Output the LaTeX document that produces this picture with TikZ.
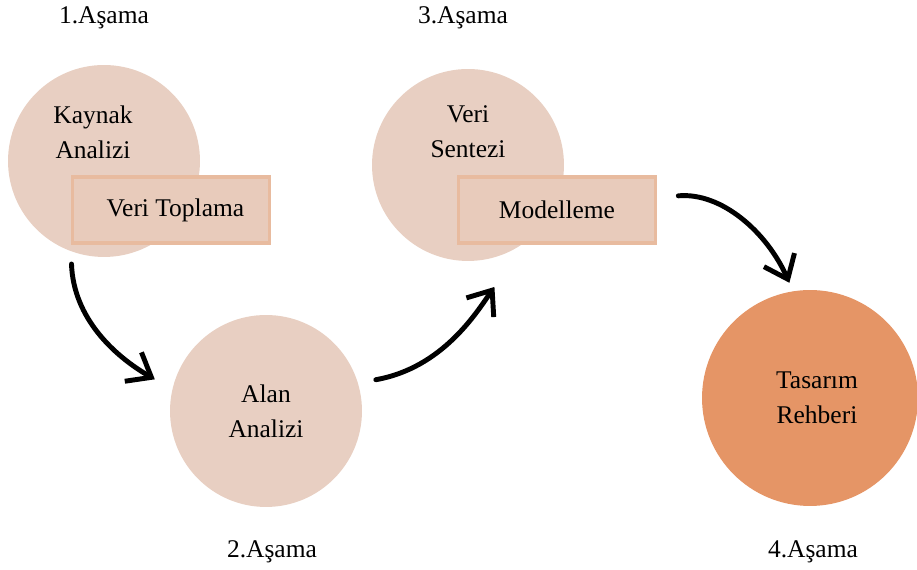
\documentclass[tikz,border=0pt]{standalone}
\usepackage{fontspec}
\setmainfont{Liberation Serif}
\usetikzlibrary{arrows.meta}

\definecolor{softpeach}{HTML}{E8CFC2}
\definecolor{boxfill}{HTML}{E8CBBB}
\definecolor{boxedge}{HTML}{E8BB9F}
\definecolor{deeporange}{HTML}{E59566}

\tikzset{
  txt/.style={font=\fontsize{14.5}{20}\selectfont, align=center, inner sep=0pt},
  stage/.style={circle, fill=softpeach, minimum size=3.84cm, inner sep=0pt},
  task/.style={rectangle, fill=boxfill, draw=boxedge, line width=2.2pt,
    minimum width=3.94cm, minimum height=1.32cm, inner sep=0pt},
  flow/.style={line width=2.8pt, line cap=round,
    -{Straight Barb[length=12pt,width=19pt,line width=2.8pt]}}
}

\begin{document}
\begin{tikzpicture}[x=0.02cm, y=0.02cm]
  \useasboundingbox (0,0) rectangle (917,570);
  % circles
  \node[stage] (kaynak) at (104,409) {};
  \node[stage] (sentez) at (468,405) {};
  \node[stage, txt] (alan) at (266,159) {Alan\\Analizi};
  \node[stage, fill=deeporange, minimum size=4.32cm] (rehber) at (810,172) {};
  \node[txt] (rehberlbl) at (817,172) {Tasarım\\Rehberi};
  % boxes
  \node[task, txt] (toplama) at (171,360) {\hspace{5pt}Veri Toplama};
  \node[task, txt] (modelleme) at (557,360) {Modelleme};
  \node[txt] (kaynaklbl) at (93,438) {Kaynak\\Analizi};
  \node[txt] (sentezlbl) at (468,438) {Veri\\Sentezi};
  % stage labels
  \node[txt] (asama1) at (104,552) {1.Aşama};
  \node[txt] (asama3) at (463,552) {3.Aşama};
  \node[txt] (asama2) at (272,18) {2.Aşama};
  \node[txt] (asama4) at (813,18) {4.Aşama};
  % arrows
  \draw[flow, shorten <=0.25cm, shorten >=0.4cm] (kaynak.250) to[out=-88, in=150] (alan.167);
  \draw[flow, shorten <=0.36cm, shorten >=1.1cm] (alan.17) to[out=10, in=235] (sentez.307);
  \draw[flow, shorten <=0.42cm, shorten >=0.18cm] (modelleme.7) to[out=5, in=114] (rehber.99);
\end{tikzpicture}
\end{document}
